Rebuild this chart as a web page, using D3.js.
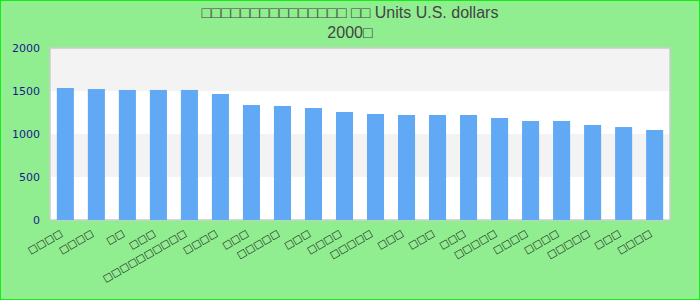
<!DOCTYPE html>
<html>
<head>
<meta charset="utf-8">
<script src="https://cdn.jsdelivr.net/npm/d3@7"></script>
<style>
  body { margin: 0; background: #90ee90; }
  svg { display: block; }
</style>
</head>
<body>
<svg id="chart" width="700" height="300"></svg>
<script>
// labels in the source rendered as missing-glyph boxes, kept as boxes here
const categories = [
  '□□□□', '□□□□', '□□', '□□□', '□□□□□□□□□□',
  '□□□□', '□□□', '□□□□□', '□□□', '□□□□',
  '□□□□□', '□□□', '□□□', '□□□', '□□□□□',
  '□□□□', '□□□□', '□□□□□', '□□□', '□□□□'
]
const values = [
  1535, 1523, 1512, 1512, 1512, 1465, 1337, 1326, 1302, 1256,
  1233, 1221, 1221, 1221, 1186, 1151, 1151, 1105, 1081, 1047
]
const yTicks = [0, 500, 1000, 1500, 2000]
const titleLines = ['□□□□□□□□□□□□□□□ □□ Units U.S. dollars', '2000□']

const width = 700,
    height = 300,
    plot = { top: 48, right: 670, bottom: 220, left: 50 }

const svg = d3.select('#chart')

svg.append('rect')
    .attr('x', 0.5).attr('y', 0.5)
    .attr('width', width - 1).attr('height', height - 1)
    .attr('fill', '#90ee90')
    .attr('stroke', '#11ee11')

const x = d3.scaleBand()
    .domain(d3.range(values.length))
    .range([plot.left, plot.right])
    .paddingInner(0.45)
    .paddingOuter(0.22)

const y = d3.scaleLinear()
    .domain([0, 2000])
    .range([plot.bottom, plot.top])

// alternating bands
svg.append('g')
  .selectAll('rect')
  .data(d3.pairs(yTicks))
  .join('rect')
    .attr('x', plot.left)
    .attr('width', plot.right - plot.left)
    .attr('y', d => y(d[1]))
    .attr('height', d => y(d[0]) - y(d[1]))
    .attr('fill', (d, i) => i % 2 ? '#f3f3f3' : '#ffffff')

svg.append('rect')
    .attr('x', plot.left).attr('y', plot.top)
    .attr('width', plot.right - plot.left)
    .attr('height', plot.bottom - plot.top)
    .attr('fill', 'none')
    .attr('stroke', '#cccccc')
    .attr('stroke-width', 1.5)

svg.append('g')
  .selectAll('rect')
  .data(values)
  .join('rect')
    .attr('x', (d, i) => x(i))
    .attr('width', x.bandwidth())
    .attr('y', d => y(d))
    .attr('height', d => y(0) - y(d))
    .attr('fill', '#62a9f5')

// y axis
const yAxis = svg.append('g')
    .attr('transform', `translate(${plot.left}, 0)`)
    .call(d3.axisLeft(y).tickValues(yTicks).tickFormat(d3.format('d')).tickSize(0).tickPadding(10))
yAxis.select('.domain').remove()
yAxis.selectAll('text')
    .attr('fill', '#1a1a8c')
    .style('font-family', 'DejaVu Sans')
    .style('font-size', '11px')

// category labels, rotated
svg.append('g')
  .selectAll('text')
  .data(categories)
  .join('text')
    .attr('transform', (d, i) => `translate(${x(i) + x.bandwidth() / 2 - 4}, 232) rotate(-30)`)
    .attr('text-anchor', 'end')
    .attr('dy', '0.35em')
    .attr('fill', '#222')
    .style('font-family', 'DejaVu Sans')
    .style('font-size', '10px')
    .text(d => d)

svg.append('g')
  .selectAll('text')
  .data(titleLines)
  .join('text')
    .attr('x', width / 2)
    .attr('y', (d, i) => 18 + i * 20)
    .attr('text-anchor', 'middle')
    .attr('fill', '#444')
    .style('font-family', 'Liberation Sans, DejaVu Sans')
    .style('font-size', '16px')
    .text(d => d)
</script>
</body>
</html>
